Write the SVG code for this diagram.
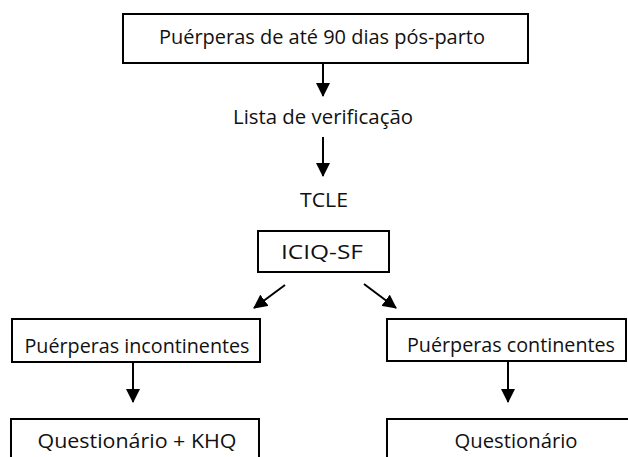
<svg xmlns="http://www.w3.org/2000/svg" width="628" height="457" viewBox="0 0 628 457">
<style>
.box{fill:#fff;stroke:#000;stroke-width:2}
.t{font-family:"Open Sans","Liberation Sans",sans-serif;font-size:20px;fill:#111;text-anchor:middle}
.c{stroke:#000;stroke-width:2;fill:none}
</style>
<defs>
<marker id="ah" viewBox="0 0 14 14" refX="13" refY="7" markerWidth="14" markerHeight="14" markerUnits="userSpaceOnUse" orient="auto">
<path d="M0,0 L14,7 L0,14 Z" fill="#000"/>
</marker>
</defs>
<rect width="628" height="457" fill="#fff"/>
<g id="n1"><rect class="box" x="123" y="14" width="405" height="49"/><text class="t" x="322" y="44" textLength="326" lengthAdjust="spacingAndGlyphs">Puérperas de até 90 dias pós-parto</text></g>
<g id="n2"><text class="t" x="323" y="124" textLength="180" lengthAdjust="spacingAndGlyphs">Lista de verificação</text></g>
<g id="n3"><text class="t" x="324" y="207" textLength="48" lengthAdjust="spacingAndGlyphs">TCLE</text></g>
<g id="n4"><rect class="box" x="258" y="231" width="131" height="41"/><text class="t" x="322" y="259" textLength="82" lengthAdjust="spacingAndGlyphs">ICIQ-SF</text></g>
<g id="n5"><rect class="box" x="12" y="319" width="248" height="43"/><text class="t" x="137" y="353" textLength="225" lengthAdjust="spacingAndGlyphs">Puérperas incontinentes</text></g>
<g id="n6"><rect class="box" x="387" y="319" width="239" height="42"/><text class="t" x="511" y="352" textLength="208" lengthAdjust="spacingAndGlyphs">Puérperas continentes</text></g>
<g id="n7"><rect class="box" x="11" y="419" width="248" height="50"/><text class="t" x="137" y="448" textLength="199" lengthAdjust="spacingAndGlyphs">Questionário + KHQ</text></g>
<g id="n8"><rect class="box" x="387" y="419" width="250" height="50"/><text class="t" x="516" y="448" textLength="123" lengthAdjust="spacingAndGlyphs">Questionário</text></g>
<g id="connectors">
<line class="c" x1="323" y1="63" x2="323" y2="96" marker-end="url(#ah)"/>
<line class="c" x1="323" y1="137" x2="323" y2="176" marker-end="url(#ah)"/>
<line class="c" x1="285" y1="285" x2="254" y2="308" marker-end="url(#ah)"/>
<line class="c" x1="364" y1="284" x2="396" y2="308" marker-end="url(#ah)"/>
<line class="c" x1="133" y1="362" x2="133" y2="402" marker-end="url(#ah)"/>
<line class="c" x1="508" y1="361" x2="508" y2="402" marker-end="url(#ah)"/>
</g>
</svg>
